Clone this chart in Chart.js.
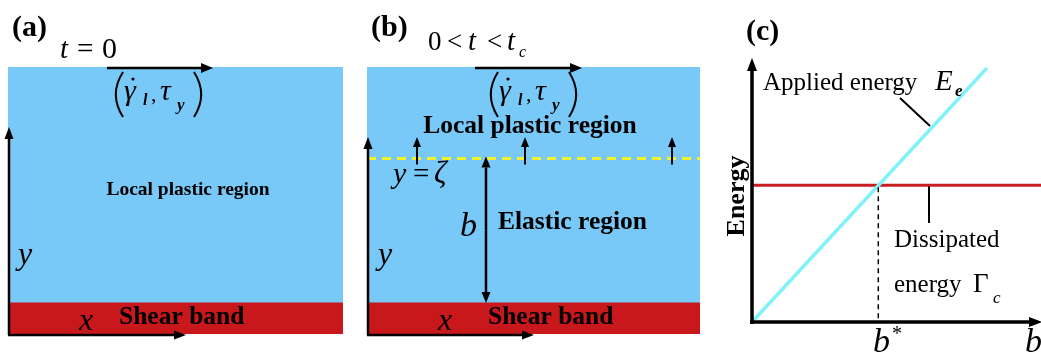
<!DOCTYPE html>
<html>
<head>
<meta charset="utf-8">
<script src="https://cdn.jsdelivr.net/npm/chart.js@4.4.1/dist/chart.umd.min.js"></script>
<style>
  html, body { margin: 0; padding: 0; background: #fff; }
  #wrap { position: relative; width: 1041px; height: 353px; overflow: hidden; background: #fff; }
  #wrap canvas { position: absolute; top: 0; }
</style>
</head>
<body>
<div id="wrap">
  <canvas id="panel-a" width="358" height="353" style="left:0px"></canvas>
  <canvas id="panel-b" width="343" height="353" style="left:358px"></canvas>
  <canvas id="panel-c" width="340" height="353" style="left:701px"></canvas>
</div>
<script>
// panel tags and layer names
var panelTags = ['(a)', '(b)', '(c)'];
var layerNames = ['Shear band', 'Elastic region', 'Local plastic region'];

// slab layers, in units of the shear band thickness
var bandLimits = [0, 1];
var slabTop = 8.6;
var frontZeta = 5.65;   // y = zeta, front of the plastic region in (b)

// panel (c): energy versus b
var appliedB = [0, 8.13];
var appliedE = [0, 10];
var dissipatedB = [0, 10];
var dissipatedE = [5.38, 5.38];
var bStar = 4.37;
var bMax = 10;
var energyMax = 10;

var SERIF = "'Liberation Serif', 'DejaVu Serif', serif";
var blue = '#78C8F8';
var red = '#C8181C';

function arrow(ctx, x1, y1, x2, y2, lw, hl, hw) {
  var a = Math.atan2(y2 - y1, x2 - x1);
  var bx = x2 - hl * Math.cos(a), by = y2 - hl * Math.sin(a);
  ctx.strokeStyle = '#000';
  ctx.fillStyle = '#000';
  ctx.lineWidth = lw;
  ctx.setLineDash([]);
  ctx.beginPath();
  ctx.moveTo(x1, y1);
  ctx.lineTo(bx, by);
  ctx.stroke();
  ctx.beginPath();
  ctx.moveTo(x2, y2);
  ctx.lineTo(bx + hw * Math.sin(a), by - hw * Math.cos(a));
  ctx.lineTo(bx - hw * Math.sin(a), by + hw * Math.cos(a));
  ctx.closePath();
  ctx.fill();
}

function text(ctx, s, x, y, font, align) {
  ctx.font = font;
  ctx.fillStyle = '#000';
  ctx.textAlign = align || 'left';
  ctx.textBaseline = 'alphabetic';
  ctx.fillText(s, x, y);
}

function paren(ctx, x, top, bottom, left) {
  var mid = (top + bottom) / 2;
  var w = 9;
  ctx.strokeStyle = '#000';
  ctx.lineWidth = 2;
  ctx.setLineDash([]);
  ctx.beginPath();
  if (left) {
    ctx.moveTo(x + w, top);
    ctx.quadraticCurveTo(x - w * 0.6, mid, x + w, bottom);
  } else {
    ctx.moveTo(x, top);
    ctx.quadraticCurveTo(x + w * 1.6, mid, x, bottom);
  }
  ctx.stroke();
}

// (gamma-dot_l, tau_y) under the loading arrow
function tuple(ctx, x0, base) {
  paren(ctx, x0 + 1, base - 28, base + 17, true);
  text(ctx, '\u03B3', x0 + 11, base, 'italic 30px ' + SERIF);
  ctx.beginPath();
  ctx.arc(x0 + 20, base - 21, 1.6, 0, Math.PI * 2);
  ctx.fill();
  text(ctx, 'l', x0 + 30, base + 5, 'italic bold 16px ' + SERIF);
  text(ctx, ',', x0 + 38, base + 1, '22px ' + SERIF);
  text(ctx, '\u03C4', x0 + 47, base, 'italic 30px ' + SERIF);
  text(ctx, 'y', x0 + 64, base + 10, 'italic bold 17px ' + SERIF);
  paren(ctx, x0 + 81, base - 28, base + 17, false);
}

function slabPlugin(off, showFront) {
  return {
    id: 'schematic' + off,
    afterDatasetsDraw: function(chart) {
      var ctx = chart.ctx;
      var area = chart.chartArea;
      var ys = chart.scales.y;
      var left = area.left + off, bottom = ys.getPixelForValue(bandLimits[0]);
      var bandTop = ys.getPixelForValue(bandLimits[1]);
      var top = ys.getPixelForValue(slabTop);
      ctx.save();
      ctx.translate(-off, 0);

      if (!showFront) {
        text(ctx, panelTags[0], 12, 36, 'bold 30px ' + SERIF);
        text(ctx, 't', 60, 58, 'italic 29px ' + SERIF);
        text(ctx, '=', 77, 58, '29px ' + SERIF);
        text(ctx, '0', 102, 58, '30px ' + SERIF);
        arrow(ctx, 107, top + 1, 213, top + 1, 2.5, 12, 5);
        tuple(ctx, 113, 100);
        text(ctx, layerNames[2], 188, 195, 'bold 19.5px ' + SERIF, 'center');
        text(ctx, 'y', 18, 264, 'italic 32px ' + SERIF);
        text(ctx, 'x', 79, 330, 'italic 32px ' + SERIF);
        text(ctx, layerNames[0], 119, 324, 'bold 25.5px ' + SERIF);
        arrow(ctx, left + 1, bottom + 1, left + 1, 127, 2.5, 12, 4.5);
        arrow(ctx, left, bottom + 1, 186, bottom + 1, 2.5, 12, 4.5);
      } else {
        var zy = ys.getPixelForValue(frontZeta);
        text(ctx, panelTags[1], 371, 36, 'bold 30px ' + SERIF);
        text(ctx, '0', 428, 50, '27px ' + SERIF);
        text(ctx, '<', 447, 50, '27px ' + SERIF);
        text(ctx, 't', 468, 50, 'italic 29px ' + SERIF);
        text(ctx, '<', 487, 50, '27px ' + SERIF);
        text(ctx, 't', 507, 50, 'italic 29px ' + SERIF);
        text(ctx, 'c', 519, 57, 'italic 16px ' + SERIF);
        arrow(ctx, 475, top + 1, 582, top + 1, 2.5, 12, 5);
        tuple(ctx, 488, 100);
        text(ctx, layerNames[2], 530, 133, 'bold 25.5px ' + SERIF, 'center');

        // yellow front
        ctx.strokeStyle = '#F2F22A';
        ctx.lineWidth = 3;
        ctx.setLineDash([9, 6]);
        ctx.beginPath();
        ctx.moveTo(left, zy);
        ctx.lineTo(area.right + off, zy);
        ctx.stroke();
        ctx.setLineDash([]);

        [417, 525, 672].forEach(function(x) {
          arrow(ctx, x, zy + 6, x, 137, 2, 10, 4);
        });
        // b between band and front
        arrow(ctx, 486, (zy + bandTop) / 2, 486, zy - 2, 2.5, 11, 4.5);
        arrow(ctx, 486, (zy + bandTop) / 2, 486, bandTop, 2.5, 11, 4.5);

        text(ctx, 'y', 393, 183, 'italic 30px ' + SERIF);
        text(ctx, '=', 413, 183, '29px ' + SERIF);
        text(ctx, '\u03B6', 434, 183, 'italic 31px ' + SERIF);
        text(ctx, 'b', 460, 236, 'italic 34px ' + SERIF);
        text(ctx, layerNames[1], 498, 229, 'bold 25.5px ' + SERIF);
        text(ctx, 'y', 378, 264, 'italic 32px ' + SERIF);
        text(ctx, 'x', 438, 330, 'italic 32px ' + SERIF);
        text(ctx, layerNames[0], 488, 324, 'bold 25.5px ' + SERIF);
        arrow(ctx, left + 1, bottom + 1, left + 1, 137, 2.5, 12, 4.5);
        arrow(ctx, left, bottom + 1, 534, bottom + 1, 2.5, 12, 4.5);
      }
      ctx.restore();
    }
  };
}

function slabChart(id, datasets, off, showFront, padLeft, padRight) {
  return new Chart(document.getElementById(id), {
    type: 'bar',
    data: { labels: ['slab'], datasets: datasets },
    options: {
      responsive: false,
      animation: false,
      events: [],
      layout: { padding: { left: padLeft, right: padRight, top: 67, bottom: 19 } },
      datasets: { bar: { barPercentage: 1, categoryPercentage: 1, borderWidth: 0, borderSkipped: false } },
      plugins: { legend: { display: false }, tooltip: { enabled: false } },
      scales: {
        x: { display: false, stacked: true },
        y: { display: false, stacked: false, min: 0, max: slabTop }
      }
    },
    plugins: [slabPlugin(off, showFront)]
  });
}

slabChart('panel-a', [
  { label: layerNames[0], data: [bandLimits], backgroundColor: red },
  { label: layerNames[2], data: [[bandLimits[1], slabTop]], backgroundColor: blue }
], 0, false, 8, 15);

slabChart('panel-b', [
  { label: layerNames[0], data: [bandLimits], backgroundColor: red },
  { label: layerNames[1], data: [[bandLimits[1], frontZeta]], backgroundColor: blue },
  { label: layerNames[2], data: [[frontZeta, slabTop]], backgroundColor: blue }
], 358, true, 9, 1);

var energyPlugin = {
  id: 'energyAnnotations',
  afterDatasetsDraw: function(chart) {
    var ctx = chart.ctx;
    var xs = chart.scales.x, ys = chart.scales.y;
    var off = 701;
    var x0 = xs.getPixelForValue(0) + off, y0 = ys.getPixelForValue(0);
    var xb = xs.getPixelForValue(bStar) + off, yd = ys.getPixelForValue(dissipatedE[0]);
    ctx.save();
    ctx.translate(-off, 0);

    ctx.strokeStyle = '#000';
    ctx.lineWidth = 1.5;
    ctx.setLineDash([5, 4]);
    ctx.beginPath();
    ctx.moveTo(xb, yd + 2);
    ctx.lineTo(xb, y0);
    ctx.stroke();
    ctx.setLineDash([]);

    arrow(ctx, x0, y0 + 2, x0, 58, 3.5, 13, 5);
    arrow(ctx, x0 - 2, y0, 1042, y0, 3.5, 13, 5);

    // leaders
    ctx.lineWidth = 2;
    ctx.beginPath();
    ctx.moveTo(900, 98);
    ctx.lineTo(930, 126);
    ctx.moveTo(929, yd + 1);
    ctx.lineTo(929, 223);
    ctx.stroke();

    text(ctx, panelTags[2], 746, 40, 'bold 30px ' + SERIF);
    text(ctx, 'Applied energy', 763, 90, '25px ' + SERIF);
    text(ctx, 'E', 935, 90, 'italic 29px ' + SERIF);
    text(ctx, 'e', 955, 96, 'italic bold 17px ' + SERIF);
    text(ctx, 'Dissipated', 894, 247, '25px ' + SERIF);
    text(ctx, 'energy', 894, 292, '25px ' + SERIF);
    text(ctx, '\u0393', 973, 292, '27px ' + SERIF);
    text(ctx, 'c', 993, 303, 'italic 17px ' + SERIF);
    text(ctx, 'b', 873, 352, 'italic 34px ' + SERIF);
    text(ctx, '*', 892, 340, '20px ' + SERIF);
    text(ctx, 'b', 1025, 352, 'italic 34px ' + SERIF);

    ctx.save();
    ctx.translate(744, 196);
    ctx.rotate(-Math.PI / 2);
    text(ctx, 'Energy', 0, 0, 'bold 26px ' + SERIF, 'center');
    ctx.restore();

    ctx.restore();
  }
};

new Chart(document.getElementById('panel-c'), {
  type: 'line',
  data: {
    datasets: [
      { label: 'Applied energy', data: appliedB.map(function(b, i) { return { x: b, y: appliedE[i] }; }),
        borderColor: '#80F2F8', borderWidth: 3.5, pointRadius: 0, clip: false },
      { label: 'Dissipated energy', data: dissipatedB.map(function(b, i) { return { x: b, y: dissipatedE[i] }; }),
        borderColor: '#C81E24', borderWidth: 3, pointRadius: 0, clip: false }
    ]
  },
  options: {
    responsive: false,
    animation: false,
    events: [],
    layout: { padding: { left: 51, right: 0, top: 68, bottom: 31 } },
    plugins: { legend: { display: false }, tooltip: { enabled: false } },
    scales: {
      x: { type: 'linear', display: false, min: 0, max: bMax },
      y: { type: 'linear', display: false, min: 0, max: energyMax }
    }
  },
  plugins: [energyPlugin]
});
</script>
</body>
</html>
